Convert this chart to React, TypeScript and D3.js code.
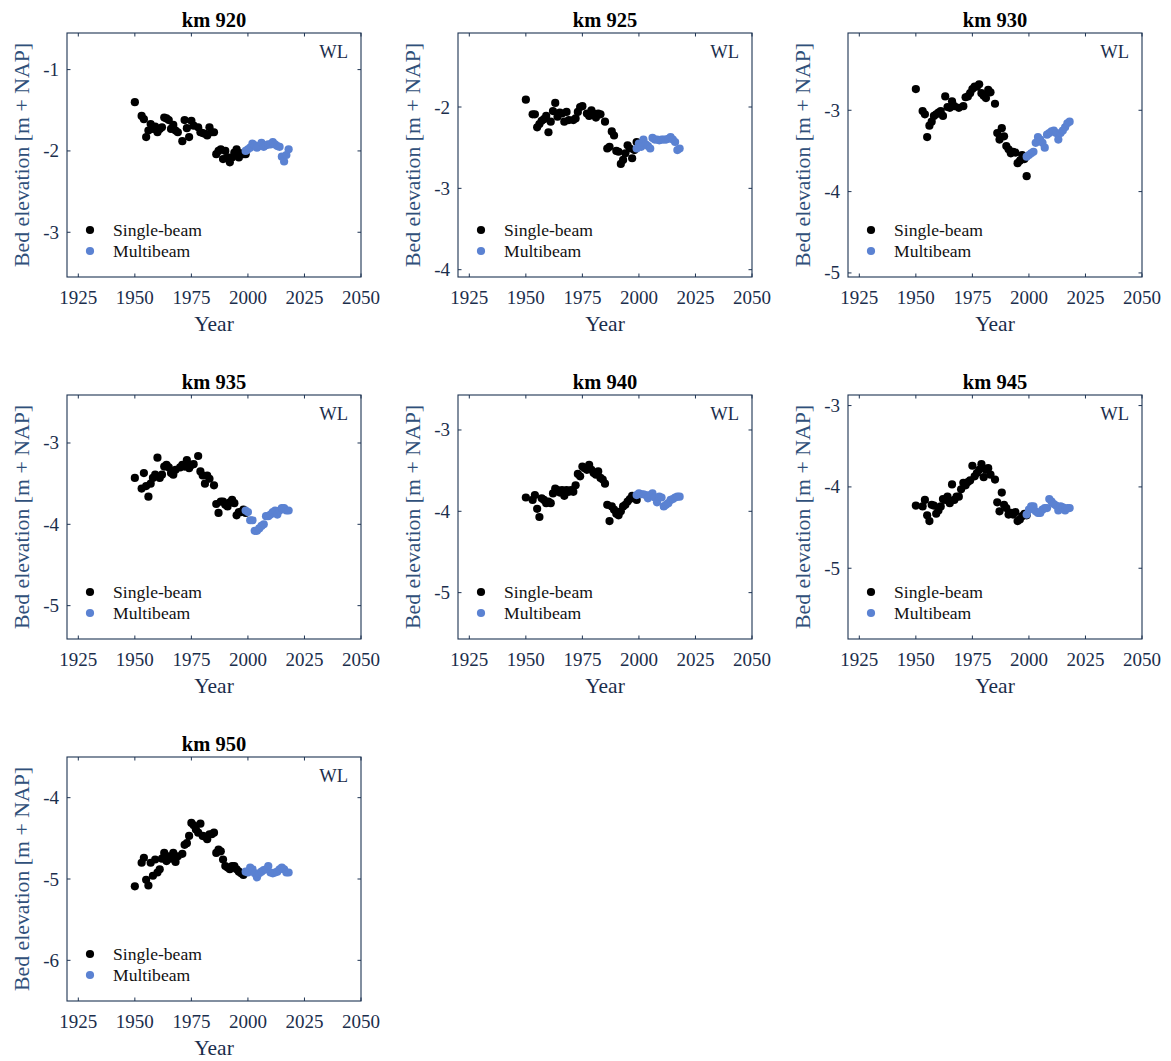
import React from "react";
import * as d3 from "d3";

const panelTitles = ["km 920", "km 925", "km 930", "km 935", "km 940", "km 945", "km 950"];
const yDomains: [number, number][] = [
  [-3.55, -0.55], [-4.09, -1.09], [-5.05, -2.05], [-5.41, -2.41], [-5.57, -2.57], [-5.87, -2.87], [-6.5, -3.5],
];
const yTickValues = [[-1, -2, -3], [-2, -3, -4], [-3, -4, -5], [-3, -4, -5], [-3, -4, -5], [-3, -4, -5], [-4, -5, -6]];
const xTickValues = [1925, 1950, 1975, 2000, 2025, 2050];
const xDomain: [number, number] = [1920, 2050];
const legendLabels = ["Single-beam", "Multibeam"];

const km920Single = [[1950,-1.40],[1953,-1.57],[1954,-1.61],[1955,-1.83],[1956,-1.75],[1957,-1.67],[1958,-1.73],[1959,-1.70],[1960,-1.77],[1961,-1.73],[1962,-1.71],[1963,-1.59],[1964,-1.60],[1965,-1.62],[1966,-1.73],[1967,-1.68],[1968,-1.75],[1969,-1.77],[1971,-1.88],[1972,-1.62],[1973,-1.72],[1974,-1.83],[1975,-1.63],[1976,-1.69],[1978,-1.71],[1979,-1.77],[1980,-1.78],[1981,-1.79],[1982,-1.81],[1983,-1.71],[1984,-1.77],[1985,-1.77],[1986,-2.04],[1987,-2.00],[1988,-1.98],[1989,-2.10],[1990,-2.00],[1991,-2.08],[1992,-2.14],[1993,-2.08],[1994,-2.02],[1995,-1.98],[1996,-2.08],[1997,-2.03],[1998,-2.04],[1999,-2.04]];
const km920Multi = [[1999,-2.00],[2000,-1.98],[2001,-1.96],[2002,-1.91],[2003,-1.93],[2004,-1.96],[2005,-1.94],[2006,-1.90],[2007,-1.95],[2008,-1.93],[2009,-1.92],[2010,-1.92],[2011,-1.89],[2012,-1.92],[2013,-1.94],[2014,-1.95],[2015,-2.07],[2016,-2.13],[2017,-2.05],[2018,-1.98]];

const km925Single = [[1950,-1.91],[1953,-2.09],[1954,-2.09],[1955,-2.25],[1956,-2.21],[1957,-2.17],[1958,-2.15],[1959,-2.11],[1960,-2.31],[1961,-2.18],[1962,-2.05],[1963,-1.95],[1964,-2.12],[1965,-2.07],[1966,-2.08],[1967,-2.18],[1968,-2.06],[1969,-2.16],[1971,-2.16],[1972,-2.14],[1973,-2.06],[1974,-2.00],[1975,-1.99],[1977,-2.08],[1978,-2.11],[1979,-2.04],[1980,-2.08],[1981,-2.13],[1982,-2.08],[1983,-2.09],[1985,-2.18],[1986,-2.51],[1987,-2.49],[1988,-2.30],[1989,-2.35],[1990,-2.54],[1991,-2.55],[1992,-2.70],[1993,-2.65],[1994,-2.57],[1995,-2.47],[1996,-2.51],[1997,-2.63],[1998,-2.53],[1999,-2.43]];
const km925Multi = [[1999,-2.51],[2000,-2.45],[2001,-2.49],[2002,-2.40],[2003,-2.46],[2004,-2.48],[2005,-2.51],[2006,-2.38],[2007,-2.40],[2008,-2.40],[2009,-2.41],[2010,-2.40],[2011,-2.40],[2012,-2.40],[2013,-2.39],[2014,-2.37],[2015,-2.40],[2016,-2.43],[2017,-2.53],[2018,-2.51]];

const km930Single = [[1950,-2.74],[1953,-3.01],[1954,-3.05],[1955,-3.33],[1956,-3.19],[1957,-3.14],[1958,-3.07],[1959,-3.05],[1960,-3.03],[1961,-3.01],[1962,-3.07],[1963,-2.83],[1964,-2.96],[1965,-2.97],[1966,-2.89],[1967,-2.95],[1969,-2.97],[1971,-2.95],[1972,-2.84],[1973,-2.83],[1974,-2.79],[1975,-2.74],[1976,-2.71],[1977,-2.71],[1978,-2.68],[1979,-2.79],[1980,-2.82],[1981,-2.85],[1982,-2.75],[1983,-2.78],[1985,-2.92],[1986,-3.28],[1987,-3.36],[1988,-3.22],[1989,-3.32],[1990,-3.44],[1991,-3.48],[1992,-3.53],[1993,-3.51],[1994,-3.52],[1995,-3.65],[1996,-3.62],[1997,-3.55],[1998,-3.60],[1999,-3.81]];
const km930Multi = [[1999,-3.57],[2000,-3.55],[2001,-3.53],[2002,-3.51],[2003,-3.40],[2004,-3.33],[2005,-3.36],[2006,-3.40],[2007,-3.46],[2008,-3.30],[2009,-3.28],[2010,-3.26],[2011,-3.25],[2012,-3.28],[2013,-3.36],[2014,-3.28],[2015,-3.25],[2016,-3.21],[2017,-3.16],[2018,-3.14]];

const km935Single = [[1950,-3.43],[1953,-3.56],[1954,-3.37],[1955,-3.53],[1956,-3.66],[1957,-3.50],[1958,-3.43],[1959,-3.39],[1960,-3.18],[1961,-3.43],[1962,-3.39],[1963,-3.29],[1964,-3.27],[1965,-3.30],[1966,-3.37],[1967,-3.39],[1968,-3.33],[1970,-3.30],[1971,-3.27],[1972,-3.29],[1973,-3.21],[1974,-3.31],[1975,-3.27],[1976,-3.26],[1978,-3.16],[1979,-3.35],[1980,-3.40],[1981,-3.50],[1982,-3.40],[1983,-3.44],[1985,-3.52],[1986,-3.75],[1987,-3.86],[1988,-3.72],[1989,-3.72],[1990,-3.76],[1991,-3.78],[1992,-3.73],[1993,-3.70],[1994,-3.74],[1995,-3.89],[1996,-3.85],[1997,-3.85],[1998,-3.82],[1999,-3.86]];
const km935Multi = [[1999,-3.83],[2000,-3.85],[2001,-3.95],[2002,-3.95],[2003,-4.08],[2004,-4.08],[2005,-4.05],[2006,-4.02],[2007,-4.00],[2008,-3.90],[2009,-3.90],[2010,-3.88],[2011,-3.85],[2012,-3.83],[2013,-3.88],[2014,-3.83],[2015,-3.80],[2016,-3.80],[2017,-3.83],[2018,-3.83]];

const km940Single = [[1950,-3.83],[1953,-3.86],[1954,-3.80],[1955,-3.97],[1956,-4.07],[1957,-3.84],[1958,-3.86],[1959,-3.90],[1960,-3.88],[1961,-3.90],[1962,-3.78],[1963,-3.72],[1964,-3.74],[1965,-3.77],[1966,-3.74],[1967,-3.81],[1968,-3.74],[1969,-3.76],[1970,-3.74],[1971,-3.76],[1972,-3.68],[1973,-3.54],[1974,-3.57],[1975,-3.45],[1976,-3.47],[1977,-3.49],[1978,-3.43],[1979,-3.49],[1980,-3.53],[1981,-3.55],[1982,-3.51],[1983,-3.59],[1984,-3.61],[1985,-3.66],[1986,-3.92],[1987,-4.12],[1988,-3.94],[1989,-3.98],[1990,-4.03],[1991,-4.05],[1992,-4.00],[1993,-3.94],[1994,-3.92],[1995,-3.88],[1996,-3.85],[1997,-3.81],[1998,-3.82],[1999,-3.86]];
const km940Multi = [[1999,-3.80],[2000,-3.78],[2001,-3.79],[2002,-3.79],[2003,-3.80],[2004,-3.84],[2005,-3.80],[2006,-3.78],[2007,-3.83],[2008,-3.89],[2009,-3.82],[2010,-3.83],[2011,-3.94],[2012,-3.92],[2013,-3.90],[2014,-3.86],[2015,-3.85],[2016,-3.83],[2017,-3.82],[2018,-3.82]];

const km945Single = [[1950,-4.23],[1953,-4.24],[1954,-4.16],[1955,-4.35],[1956,-4.42],[1957,-4.22],[1958,-4.23],[1959,-4.33],[1960,-4.29],[1961,-4.24],[1962,-4.15],[1963,-4.16],[1964,-4.12],[1965,-4.20],[1966,-3.97],[1967,-4.16],[1968,-4.12],[1969,-4.12],[1970,-4.03],[1971,-3.95],[1972,-3.98],[1973,-3.94],[1974,-3.92],[1975,-3.74],[1976,-3.87],[1977,-3.83],[1978,-3.79],[1979,-3.72],[1980,-3.88],[1981,-3.79],[1982,-3.77],[1983,-3.85],[1985,-3.91],[1986,-4.19],[1987,-4.30],[1988,-4.07],[1989,-4.22],[1990,-4.26],[1991,-4.34],[1992,-4.32],[1993,-4.34],[1994,-4.31],[1995,-4.42],[1996,-4.40],[1997,-4.36],[1998,-4.33],[1999,-4.35]];
const km945Multi = [[1999,-4.34],[2000,-4.28],[2001,-4.24],[2002,-4.24],[2003,-4.30],[2004,-4.32],[2005,-4.32],[2006,-4.28],[2007,-4.26],[2008,-4.26],[2009,-4.15],[2010,-4.18],[2011,-4.21],[2012,-4.23],[2013,-4.29],[2014,-4.24],[2015,-4.25],[2016,-4.29],[2017,-4.26],[2018,-4.26]];

const km950Single = [[1950,-5.09],[1953,-4.80],[1954,-4.74],[1955,-5.01],[1956,-5.08],[1957,-4.80],[1958,-4.96],[1959,-4.76],[1960,-4.92],[1961,-4.88],[1962,-4.75],[1963,-4.68],[1964,-4.78],[1965,-4.72],[1966,-4.75],[1967,-4.68],[1968,-4.79],[1969,-4.72],[1971,-4.69],[1972,-4.58],[1973,-4.56],[1974,-4.47],[1975,-4.31],[1976,-4.34],[1977,-4.39],[1978,-4.43],[1979,-4.32],[1980,-4.47],[1981,-4.48],[1982,-4.51],[1983,-4.45],[1984,-4.45],[1985,-4.43],[1986,-4.68],[1987,-4.64],[1988,-4.66],[1989,-4.76],[1990,-4.84],[1991,-4.86],[1992,-4.88],[1993,-4.84],[1994,-4.84],[1995,-4.88],[1996,-4.91],[1997,-4.93],[1998,-4.95]];
const km950Multi = [[1999,-4.91],[2000,-4.92],[2001,-4.86],[2002,-4.88],[2003,-4.93],[2004,-4.98],[2005,-4.93],[2006,-4.91],[2007,-4.89],[2008,-4.88],[2009,-4.84],[2010,-4.92],[2011,-4.93],[2012,-4.92],[2013,-4.91],[2014,-4.88],[2015,-4.86],[2016,-4.88],[2017,-4.92],[2018,-4.92]];

const singleSeries = [km920Single, km925Single, km930Single, km935Single, km940Single, km945Single, km950Single];
const multiSeries = [km920Multi, km925Multi, km930Multi, km935Multi, km940Multi, km945Multi, km950Multi];

const W = 1171;
const H = 1061;
const colLeft = [67, 458, 848];
const rowTop = [33, 395, 757];
const boxW = 294;
const boxH = 244;
const FONT = "'Liberation Serif', 'Times New Roman', serif";
const AXIS = "#1d3352";
const TICKTXT = "#1b2e4c";
const YLAB = "#30507a";
const MULTI = "#5b82d2";
const R = 4.1;

function Panel({ i }: { i: number }) {
  const left = colLeft[i % 3];
  const top = rowTop[Math.floor(i / 3)];
  const x = d3.scaleLinear().domain(xDomain).range([0, boxW]);
  const y = d3.scaleLinear().domain(yDomains[i]).range([boxH, 0]);
  const tl = 3.5;
  return (
    <g transform={`translate(${left},${top})`}>
      <text x={boxW / 2} y={-6.5} textAnchor="middle" fontFamily={FONT} fontWeight="bold" fontSize={20.5} fill="#000">
        {panelTitles[i]}
      </text>
      {singleSeries[i].map((d, k) => (
        <circle key={"s" + k} cx={x(d[0])} cy={y(d[1])} r={R} fill="#000" />
      ))}
      {multiSeries[i].map((d, k) => (
        <circle key={"m" + k} cx={x(d[0])} cy={y(d[1])} r={R} fill={MULTI} />
      ))}
      <rect x={0} y={0} width={boxW} height={boxH} fill="none" stroke={AXIS} strokeWidth={1.1} />
      {xTickValues.map((t) => (
        <g key={"xt" + t}>
          <line x1={x(t)} x2={x(t)} y1={boxH} y2={boxH - tl} stroke={AXIS} />
          <line x1={x(t)} x2={x(t)} y1={0} y2={tl} stroke={AXIS} />
          <text x={x(t)} y={boxH + 26.5} textAnchor="middle" fontFamily={FONT} fontSize={19} fill={TICKTXT}>
            {t}
          </text>
        </g>
      ))}
      {yTickValues[i].map((t) => (
        <g key={"yt" + t}>
          <line x1={0} x2={tl} y1={y(t)} y2={y(t)} stroke={AXIS} />
          <line x1={boxW} x2={boxW - tl} y1={y(t)} y2={y(t)} stroke={AXIS} />
          <text x={-8} y={y(t) + 6.5} textAnchor="end" fontFamily={FONT} fontSize={19} fill={TICKTXT}>
            {String(t)}
          </text>
        </g>
      ))}
      <text x={boxW / 2} y={boxH + 54} textAnchor="middle" fontFamily={FONT} fontSize={21.5} fill={TICKTXT}>
        Year
      </text>
      <text
        transform={`translate(${-38},${boxH / 2}) rotate(-90)`}
        textAnchor="middle"
        fontFamily={FONT}
        fontSize={21.8}
        fill={YLAB}
      >
        Bed elevation [m + NAP]
      </text>
      <text x={boxW - 13} y={24.5} textAnchor="end" fontFamily={FONT} fontSize={18.5} fill={TICKTXT}>
        WL
      </text>
      {legendLabels.map((lab, k) => (
        <g key={lab} transform={`translate(0,${boxH - 47 + k * 21})`}>
          <circle cx={23} cy={0} r={R} fill={k === 0 ? "#000" : MULTI} />
          <text x={46} y={5.5} fontFamily={FONT} fontSize={17.6} fill="#111">
            {lab}
          </text>
        </g>
      ))}
    </g>
  );
}

export default function App() {
  return (
    <svg
      width={W}
      height={H}
      viewBox={`0 0 ${W} ${H}`}
      style={{ position: "absolute", left: 0, top: 0, background: "#fff" }}
    >
      <rect x={0} y={0} width={W} height={H} fill="#fff" />
      {panelTitles.map((_, i) => (
        <Panel key={i} i={i} />
      ))}
    </svg>
  );
}
